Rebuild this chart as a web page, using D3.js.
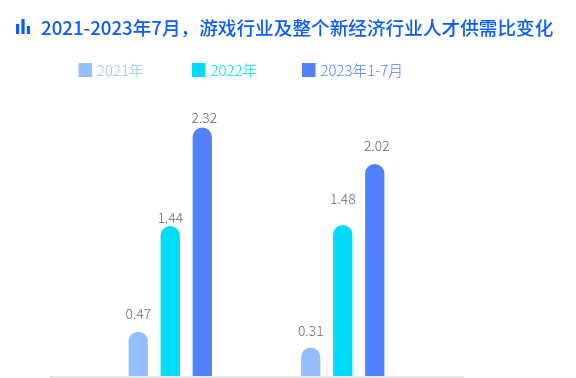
<!DOCTYPE html>
<html>
<head>
<meta charset="utf-8">
<script src="https://d3js.org/d3.v7.min.js"></script>
<style>
body { margin: 0; background: #fff; }
/* own layer, gives grey text edges like the source */
svg { will-change: opacity; }
text { font-family: "Noto Sans CJK SC", "Noto Sans", sans-serif; }
</style>
</head>
<body>
<script>
var titleText = "2021-2023年7月，游戏行业及整个新经济行业人才供需比变化";
var groups = ["游戏行业", "新经济行业"];
var seriesNames = ["2021年", "2022年", "2023年1-7月"];
var seriesColors = ["#94bfff", "#00dcfa", "#5280ff"];
var iconValues = [2, 3, 1.6];

// printed labels
var labels2021 = ["0.47", "0.31"];
var labels2022 = ["1.44", "1.48"];
var labels2023 = ["2.32", "2.02"];

// bar lengths, the source bars don't follow the labels exactly
var bars2021 = [0.414, 0.266];
var bars2022 = [1.40, 1.41];
var bars2023 = [2.32, 1.98];

// where each label sits on the same y scale (hand placed in the source)
var labelAt2021 = [0.53, 0.37];
var labelAt2022 = [1.43, 1.61];
var labelAt2023 = [2.36, 2.10];

var width = 576, height = 378;
var baseY = 376;

var svg = d3.select("body").append("svg")
    .attr("width", width)
    .attr("height", height)
    .style("display", "block");

// title icon
var iconX = d3.scaleBand().domain(d3.range(iconValues.length)).range([16, 30]).paddingInner(0.4);
var iconY = d3.scaleLinear().domain([0, 3]).range([34, 19]);
svg.append("g").selectAll("rect")
    .data(iconValues)
    .enter().append("rect")
    .attr("x", function(d, i) { return iconX(i); })
    .attr("y", function(d) { return iconY(d); })
    .attr("width", iconX.bandwidth())
    .attr("height", function(d) { return iconY(0) - iconY(d); })
    .attr("fill", "#0a5cff");

svg.append("text")
    .attr("x", 41)
    .attr("y", 35)
    .attr("fill", "#0a5cff")
    .style("font-size", "18.65px")
    .style("font-weight", 500)
    .text(titleText);

// legend
var legendX = [78.5, 192, 302];
var legend = svg.append("g").selectAll("g")
    .data(seriesNames)
    .enter().append("g")
    .attr("transform", function(d, i) { return "translate(" + legendX[i] + ",63)"; });
legend.append("rect")
    .attr("width", 13.5)
    .attr("height", 14)
    .attr("fill", function(d, i) { return seriesColors[i]; });
legend.append("text")
    .attr("x", 18.5)
    .attr("y", 12.5)
    .attr("fill", function(d, i) { return seriesColors[i]; })
    .style("font-size", "14.9px")
    .style("font-weight", 300)
    .text(function(d) { return d; });

// scales
var x0 = d3.scalePoint().domain(groups).range([49.5, 463.5]).padding(0.7);
var x1 = d3.scaleBand().domain(seriesNames).range([-41.65, 41.65]).paddingInner(0.397).paddingOuter(0);
var y = d3.scaleLinear().domain([0, 2.32]).range([baseY, 127.5]);

var barValues = [bars2021, bars2022, bars2023];
var labelValues = [labels2021, labels2022, labels2023];
var labelSpots = [labelAt2021, labelAt2022, labelAt2023];

var rows = [];
seriesNames.forEach(function(name, s) {
    groups.forEach(function(g, i) {
        rows.push({ group: g, series: name, s: s, value: barValues[s][i], label: labelValues[s][i], at: labelSpots[s][i] });
    });
});

function barPath(d) {
    var w = x1.bandwidth(), r = w / 2;
    var left = x0(d.group) + x1(d.series);
    var top = y(d.value);
    return "M" + left + "," + baseY +
        "V" + (top + r) +
        "A" + r + "," + r + " 0 0,1 " + (left + w) + "," + (top + r) +
        "V" + baseY + "Z";
}

svg.append("g").selectAll("path")
    .data(rows)
    .enter().append("path")
    .attr("d", barPath)
    .attr("fill", function(d) { return seriesColors[d.s]; });

svg.append("g").selectAll("text")
    .data(rows)
    .enter().append("text")
    // last series labels sit a bit right of their bars
    .attr("x", function(d) { return x0(d.group) + x1(d.series) + x1.bandwidth() / 2 + (d.s == 2 ? 2 : 0); })
    .attr("y", function(d) { return y(d.at); })
    .attr("text-anchor", "middle")
    .attr("fill", "#666")
    .style("font-size", "13.8px")
    .style("font-weight", 300)
    .text(function(d) { return d.label; });

// x axis, only the line shows
var axis = svg.append("g")
    .attr("transform", "translate(0," + (baseY + 1) + ")")
    .call(d3.axisBottom(x0).tickSize(0).tickFormat(""));
axis.select(".domain").attr("stroke", "#ddd").attr("stroke-width", 2);
</script>
</body>
</html>
